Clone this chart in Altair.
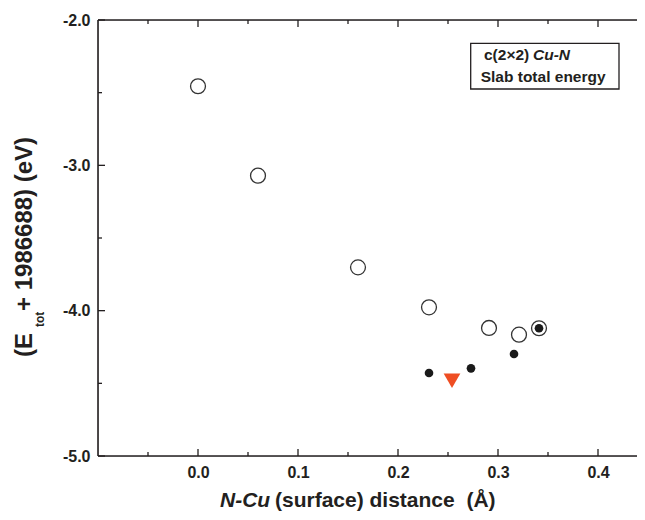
import altair as alt
import pandas as pd

# ---- data ----
open_x = [0.0, 0.06, 0.16, 0.231, 0.291, 0.321, 0.341]
open_y = [-2.456, -3.071, -3.702, -3.977, -4.119, -4.165, -4.121]

filled_x = [0.231, 0.273, 0.316, 0.341]
filled_y = [-4.429, -4.397, -4.298, -4.121]

tri_x = [0.254]
tri_y = [-4.482]

x_major = [0.0, 0.1, 0.2, 0.3, 0.4]
x_minor = [-0.05, 0.05, 0.15, 0.25, 0.35]
y_major = [-2.0, -3.0, -4.0, -5.0]
y_minor = [-2.5, -3.5, -4.5]

W, H = 539, 436
FONT = "Liberation Sans"
INK = "#231f20"
MAJ, MIN = 7, 4

xscale = alt.Scale(domain=[-0.1, -0.1 + W / 1000], nice=False, zero=False)
yscale = alt.Scale(domain=[-5.0, -2.0], nice=False, zero=False)

lab = "(datum.value < 0 ? '-' : '') + format(abs(datum.value), '.1f')"
xaxis = alt.Axis(values=x_major, labelExpr=lab, title=None, domain=False, ticks=False,
                 grid=False, labelFont=FONT, labelFontSize=16, labelFontWeight="bold",
                 labelColor=INK, labelPadding=8)
yaxis = alt.Axis(values=y_major, labelExpr=lab, title=None, domain=False, ticks=False,
                 grid=False, labelFont=FONT, labelFontSize=16, labelFontWeight="bold",
                 labelColor=INK, labelPadding=8)

X = lambda f: alt.X(f, type="quantitative", scale=xscale, axis=xaxis)
Y = lambda f: alt.Y(f, type="quantitative", scale=yscale, axis=yaxis)

open_df = pd.DataFrame({"x": open_x, "y": open_y})
filled_df = pd.DataFrame({"x": filled_x, "y": filled_y})
tri_df = pd.DataFrame({"x": tri_x, "y": tri_y})

open_pts = alt.Chart(open_df).mark_point(shape="circle", filled=False, size=222,
                                         stroke="#333333", strokeWidth=1.3, opacity=1).encode(x=X("x"), y=Y("y"))
filled_pts = alt.Chart(filled_df).mark_point(shape="circle", filled=True, size=75,
                                             color="#1a1a1a", opacity=1).encode(x=X("x"), y=Y("y"))
tri_pts = alt.Chart(tri_df).mark_point(shape="triangle-down", filled=True, size=280,
                                       color="#ef4e23", opacity=1).encode(x=X("x"), y=Y("y"))

tick_layers = []
for vals, ln in [(x_major, MAJ), (x_minor, MIN)]:
    d = pd.DataFrame({"v": vals})
    tick_layers.append(alt.Chart(d).mark_rule(color=INK, strokeWidth=1.3).encode(
        x=X("v"), y=alt.value(H), y2=alt.value(H - ln)))
    tick_layers.append(alt.Chart(d).mark_rule(color=INK, strokeWidth=1.3).encode(
        x=X("v"), y=alt.value(0), y2=alt.value(ln)))
for vals, ln in [(y_major, MAJ), (y_minor, MIN)]:
    d = pd.DataFrame({"v": vals})
    tick_layers.append(alt.Chart(d).mark_rule(color=INK, strokeWidth=1.3).encode(
        y=Y("v"), x=alt.value(0), x2=alt.value(ln)))

one = pd.DataFrame({"a": [0]})

# frame: left, top, bottom (right edge lies beyond the picture)
frame = [
    alt.Chart(one).mark_rule(color=INK, strokeWidth=1.6).encode(
        x=alt.value(0), x2=alt.value(W), y=alt.value(0)),
    alt.Chart(one).mark_rule(color=INK, strokeWidth=1.6).encode(
        x=alt.value(0), x2=alt.value(W), y=alt.value(H)),
    alt.Chart(one).mark_rule(color=INK, strokeWidth=1.6).encode(
        x=alt.value(0), y=alt.value(0), y2=alt.value(H)),
]

def txt(s, x, y, size, italic=False, angle=0, align="left", baseline="alphabetic"):
    kw = dict(text=s, font=FONT, fontSize=size, fontWeight="bold", color=INK,
              align=align, baseline=baseline)
    if italic:
        kw["fontStyle"] = "italic"
    if angle:
        kw["angle"] = angle
    return alt.Chart(one).mark_text(**kw).encode(x=alt.value(x), y=alt.value(y))

box = alt.Chart(one).mark_rect(fill="white", stroke=INK, strokeWidth=1.3).encode(
    x=alt.value(372.7), x2=alt.value(521), y=alt.value(23.3), y2=alt.value(69))

texts = [
    txt("c(2\u00d72) ", 386, 39.5, 15.5),
    txt("Cu-N", 435, 39.5, 15.5, italic=True),
    txt("Slab total energy", 382.7, 61.5, 15.5),
    # x title
    txt("N-Cu", 122, 487, 21, italic=True),
    txt("(surface) distance \u00a0(\u00c5)", 177, 487, 21),
    # y title (rotated)
    txt("(E", -66.5, 313, 24, angle=270, align="right"),
    txt("tot", -54, 307, 12, angle=270, align="left"),
    txt("+ 1986688) (eV)", -66.5, 291, 24, angle=270, align="left"),
]

chart = alt.layer(box, *tick_layers, *frame, open_pts, filled_pts, tri_pts, *texts).properties(
    width=W, height=H,
    autosize=alt.AutoSizeParams(type="none"),
    padding={"left": 90, "top": 12, "right": 0, "bottom": 56},
).configure_view(stroke=None).configure(background="white")

chart.save("out.html", embed_options={"renderer": "svg", "actions": False})
